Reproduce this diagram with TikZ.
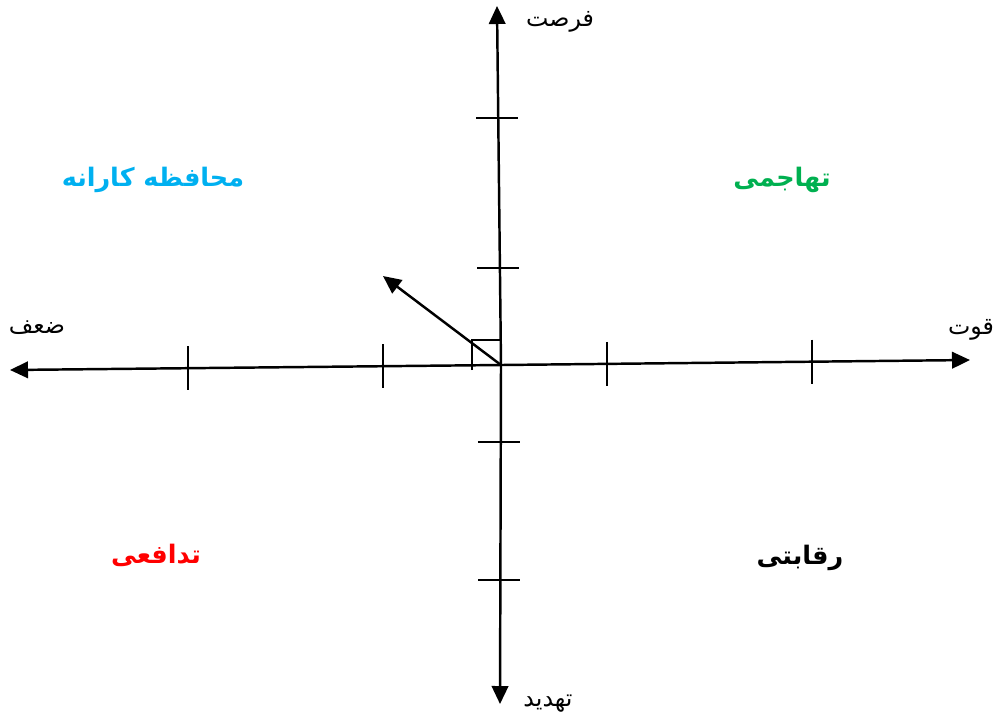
\documentclass[tikz,border=0pt]{standalone}
\usepackage{fontspec}
\usepackage{tikz}
\usetikzlibrary{arrows.meta, calc}
\TeXXeTstate=1
\newfontfamily\arabicfont[Script=Arabic]{DejaVu Sans}
\definecolor{swotblue}{HTML}{00B0F0}
\definecolor{swotgreen}{HTML}{00B050}
\definecolor{swotred}{HTML}{FF0000}

\begin{document}
\begin{tikzpicture}[
  x=0.2mm, y=-0.2mm,
  axis/.style={-{Triangle[length=3.6mm, width=3.3mm]}, line width=1.4pt},
  axtick/.style={line width=1.2pt},
  axlabel/.style={font=\arabicfont\fontsize{13.5}{15}\selectfont, inner sep=1pt},
  quad/.style={font=\arabicfont\bfseries\fontsize{14.5}{16}\selectfont, inner sep=1pt}
]
\useasboundingbox (0,0) rectangle (997,722);

% Axes
\coordinate (o) at (501,365);
\coordinate (top) at (497,6);
\coordinate (bottom) at (500,704);
\coordinate (left) at (10,370);
\coordinate (right) at (970,360);
\coordinate (dir) at (383,276);

\draw[axis] (o) -- (top);
\draw[axis] (o) -- (bottom);
\draw[axis] (o) -- (left);
\draw[axis] (o) -- (right);

% Ticks on the horizontal axis
\foreach \tx in {188,383,607,812}
  \draw[axtick] ($(left)!{(\tx-10)/960}!(right)$) ++(0,-22) -- ++(0,44);

% Ticks on the vertical axis
\foreach \ty in {118,268,442,580}
  \draw[axtick] ($(top)!{(\ty-6)/698}!(bottom)$) ++(-21,0) -- ++(42,0);

% Right angle mark and strategy arrow
\draw[axtick] (472,370) -- (472,340) -- (501,340);
\draw[axis] (o) -- (dir);

% Axis labels
\node[axlabel] (opp) at (560,22) {\beginR فرصت\endR};
\node[axlabel] (weak) at (37,328) {\beginR ضعف\endR};
\node[axlabel] (strong) at (971,330) {\beginR قوت\endR};
\node[axlabel] (threat) at (548,704) {\beginR تهدید\endR};

% Quadrant labels
\node[quad, text=swotblue] (wo) at (153,180) {\beginR محافظه کارانه\endR};
\node[quad, text=swotgreen] (so) at (782,180) {\beginR تهاجمی\endR};
\node[quad, text=swotred] (wt) at (156,555) {\beginR تدافعی\endR};
\node[quad, text=black] (st) at (800,558) {\beginR رقابتی\endR};

\end{tikzpicture}
\end{document}
